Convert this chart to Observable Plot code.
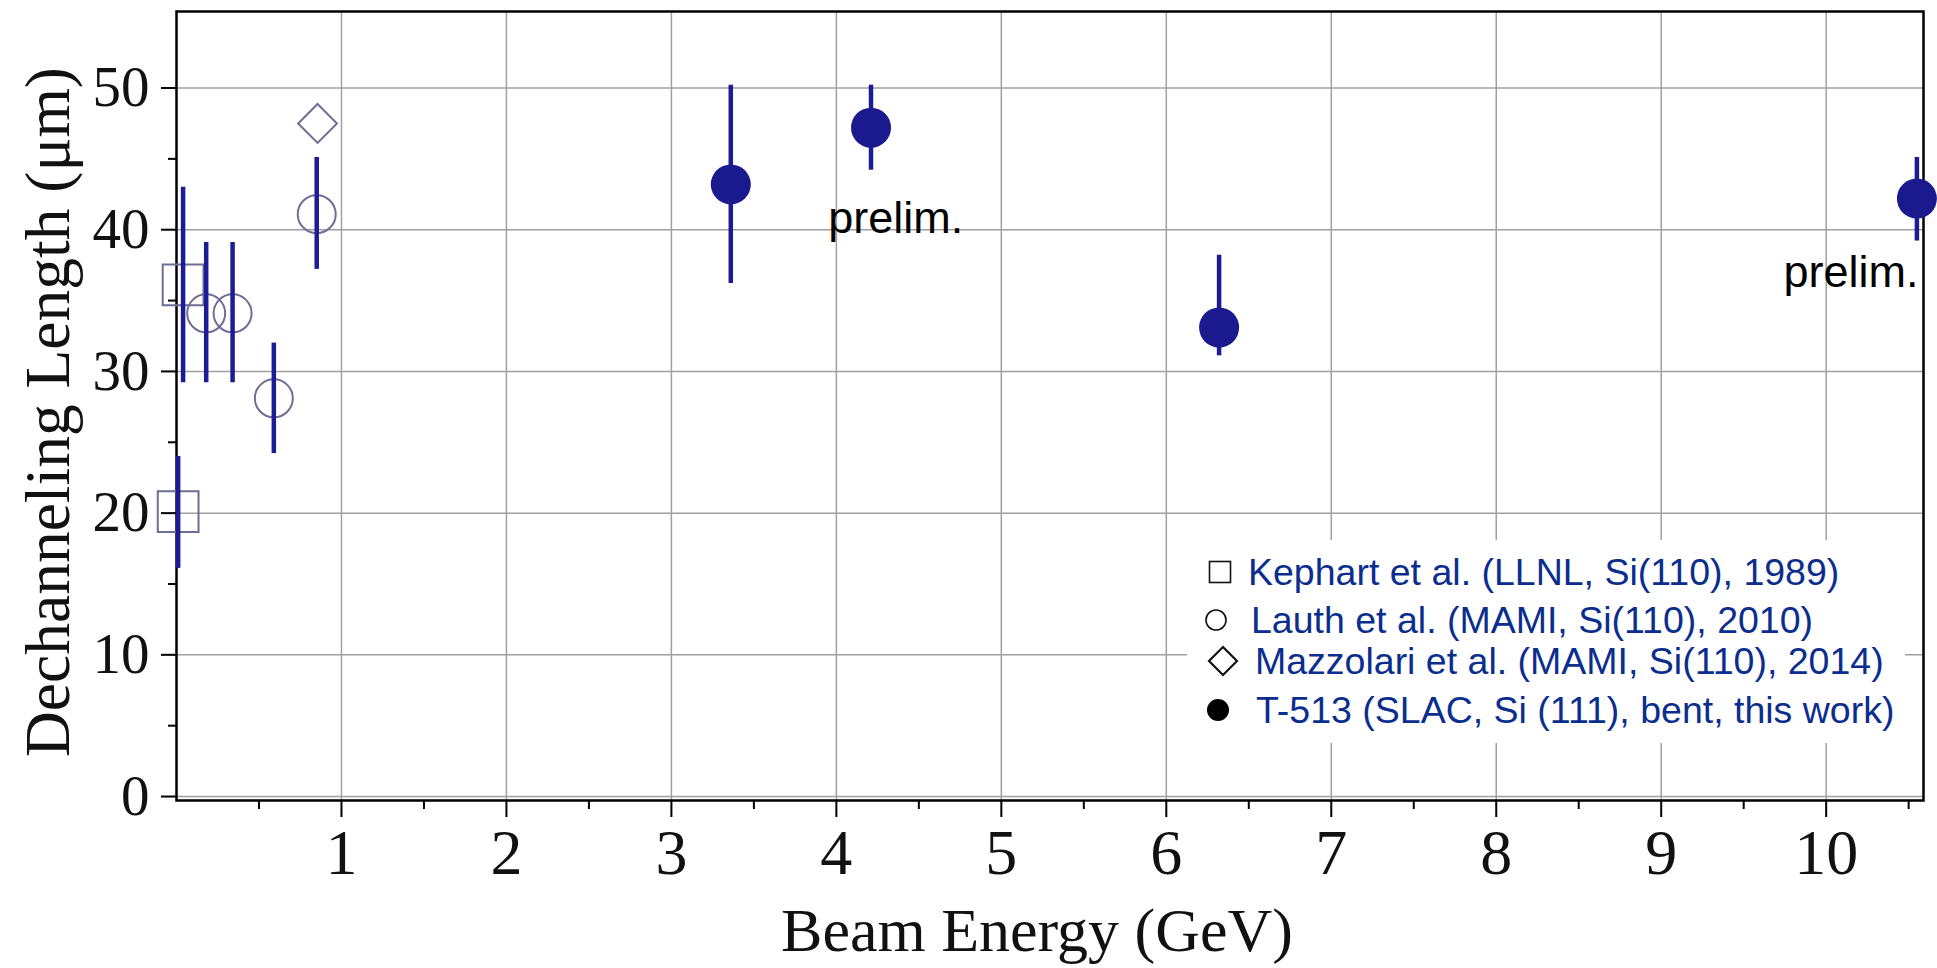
<!DOCTYPE html>
<html><head><meta charset="utf-8">
<script src="https://cdn.jsdelivr.net/npm/d3@7"></script>
<script src="https://cdn.jsdelivr.net/npm/@observablehq/plot@0.6"></script>
<style>
html,body{margin:0;padding:0;background:#fff;}
#wrap{position:relative;width:1937px;height:968px;overflow:hidden;}
#legend{position:absolute;left:1187px;top:540px;}
</style></head><body><div id="wrap"></div>
<script>
// Kephart et al. (squares)
const kephartE = [0.01, 0.04];
const kephartL = [20.1, 36.1];
const kephartLo = [16.1, 29.2];
const kephartHi = [24.0, 43.0];
// Lauth et al. (open circles)
const lauthE = [0.18, 0.34, 0.59, 0.85];
const lauthL = [34.1, 34.1, 28.1, 41.1];
const lauthLo = [29.2, 29.2, 24.2, 37.2];
const lauthHi = [39.1, 39.1, 32.0, 45.1];
// Mazzolari et al. (diamond)
const mazzE = [0.855];
const mazzL = [47.5];
// T-513 (filled)
const t513E = [3.36, 4.21, 6.32, 10.55];
const t513L = [43.2, 47.2, 33.1, 42.2];
const t513Lo = [36.2, 44.2, 31.1, 39.2];
const t513Hi = [50.2, 50.2, 38.2, 45.1];
// annotations
const prelimX = [4.36, 10.56];
const prelimY = [40.8, 37.0];
// ticks
const xTicks = [1,2,3,4,5,6,7,8,9,10];
const xMinor = [0.5,1.5,2.5,3.5,4.5,5.5,6.5,7.5,8.5,9.5,10.5];
const yTicks = [0,10,20,30,40,50];
const yMinor = [5,15,25,35,45];
const seriesNames = [
  "Kephart et al. (LLNL, Si(110), 1989)",
  "Lauth et al. (MAMI, Si(110), 2010)",
  "Mazzolari et al. (MAMI, Si(110), 2014)",
  "T-513 (SLAC, Si (111), bent, this work)"
];
const xLabel = "Beam Energy (GeV)";
const yLabel = "Dechanneling Length (μm)";

const barColor = "#1c1c96";
const dotColor = "#1a1a8e";
const openColor = "#6e6e94";
const serif = "'Liberation Serif','Times New Roman',serif";
const sans = "'Liberation Sans',Arial,sans-serif";

const zip = (E, L, Lo, Hi) => E.map((e, i) => ({e, l: L[i], lo: Lo ? Lo[i] : null, hi: Hi ? Hi[i] : null}));
const kephart = zip(kephartE, kephartL, kephartLo, kephartHi);
const lauth = zip(lauthE, lauthL, lauthLo, lauthHi);
const mazz = zip(mazzE, mazzL);
const t513 = zip(t513E, t513L, t513Lo, t513Hi);
const prelim = prelimX.map((x, i) => ({x, y: prelimY[i]}));

const chart = Plot.plot({
  width: 1937, height: 968,
  marginTop: 11, marginRight: 14, marginBottom: 168, marginLeft: 176,
  x: {domain: [0, 10.59], axis: null},
  y: {domain: [-0.28, 55.4], axis: null},
  style: {background: "transparent", overflow: "visible"},
  marks: [
    Plot.gridX(xTicks, {stroke: "#a0a0a0", strokeOpacity: 1, strokeWidth: 1.5}),
    Plot.gridY(yTicks, {stroke: "#a0a0a0", strokeOpacity: 1, strokeWidth: 1.5}),
    Plot.axisX(xMinor, {tickSize: 9, tickFormat: () => "", strokeWidth: 2, label: null}),
    Plot.axisX(xTicks, {tickSize: 17, tickPadding: 11, tickFormat: d => String(d), fontSize: 64, fontFamily: serif, fill: "#111", strokeWidth: 2, label: null}),
    Plot.axisY(yMinor, {tickSize: 8, tickFormat: () => "", strokeWidth: 2, label: null}),
    Plot.axisY(yTicks, {tickSize: 15, tickPadding: 12, tickFormat: d => String(d), fontSize: 57, fontFamily: serif, fill: "#111", strokeWidth: 2, label: null}),
    Plot.frame({stroke: "black", strokeWidth: 2.5}),
    Plot.dot(kephart, {x: "e", y: "l", symbol: "square", r: 23, stroke: openColor, strokeWidth: 2, fill: "none"}),
    Plot.dot(lauth, {x: "e", y: "l", symbol: "circle", r: 19, stroke: openColor, strokeWidth: 2, fill: "none"}),
    Plot.dot(mazz, {x: "e", y: "l", symbol: "diamond2", r: 17.5, stroke: openColor, strokeWidth: 2, fill: "none"}),
    Plot.ruleX(kephart, {x: "e", y1: "lo", y2: "hi", stroke: barColor, strokeWidth: 4.5}),
    Plot.ruleX(lauth, {x: "e", y1: "lo", y2: "hi", stroke: barColor, strokeWidth: 4.5}),
    Plot.ruleX(t513, {x: "e", y1: "lo", y2: "hi", stroke: barColor, strokeWidth: 4.5}),
    Plot.dot(t513, {x: "e", y: "l", r: 20, fill: dotColor, stroke: "none"}),
    Plot.text(prelim.slice(0, 1), {x: "x", y: "y", text: () => "prelim.", textAnchor: "middle", fontSize: 45, fontFamily: sans, fill: "#000"}),
    Plot.text(prelim.slice(1), {x: "x", y: "y", text: () => "prelim.", textAnchor: "end", fontSize: 45, fontFamily: sans, fill: "#000"}),
    Plot.text([xLabel], {frameAnchor: "bottom", dy: 131, dx: -13, fontSize: 62, fontFamily: serif, fill: "#111", lineAnchor: "middle", textAnchor: "middle"}),
    Plot.text([yLabel], {frameAnchor: "left", rotate: -90, dx: -128, dy: 6, fontSize: 63.5, fontFamily: serif, fill: "#111", lineAnchor: "middle", textAnchor: "middle"})
  ]
});
document.getElementById("wrap").appendChild(chart);

// Legend
const legW = 718, legH = 203;
const leg = d3.select("#wrap").append("svg").attr("id", "legend")
  .attr("width", legW).attr("height", legH);
leg.append("rect").attr("width", legW).attr("height", legH).attr("fill", "#fff");
const symY = [32, 80, 121, 170];
const symX = [33, 29, 36, 31];
const txtX = [61, 64, 68, 69];
leg.append("rect").attr("x", symX[0]-10.5).attr("y", symY[0]-10.5).attr("width", 21).attr("height", 21).attr("fill", "none").attr("stroke", "#111").attr("stroke-width", 1.6);
leg.append("circle").attr("cx", symX[1]).attr("cy", symY[1]).attr("r", 10).attr("fill", "none").attr("stroke", "#111").attr("stroke-width", 1.6);
leg.append("path").attr("d", `M${symX[2]},${symY[2]-14}L${symX[2]+14},${symY[2]}L${symX[2]},${symY[2]+14}L${symX[2]-14},${symY[2]}Z`).attr("fill", "none").attr("stroke", "#111").attr("stroke-width", 2.2);
leg.append("circle").attr("cx", symX[3]).attr("cy", symY[3]).attr("r", 11).attr("fill", "#000");
seriesNames.forEach((s, i) => {
  leg.append("text").attr("x", txtX[i]).attr("y", symY[i] + 13)
    .attr("font-family", sans).attr("font-size", 37.5).attr("fill", "#0b2e8e").text(s);
});
</script></body></html>
